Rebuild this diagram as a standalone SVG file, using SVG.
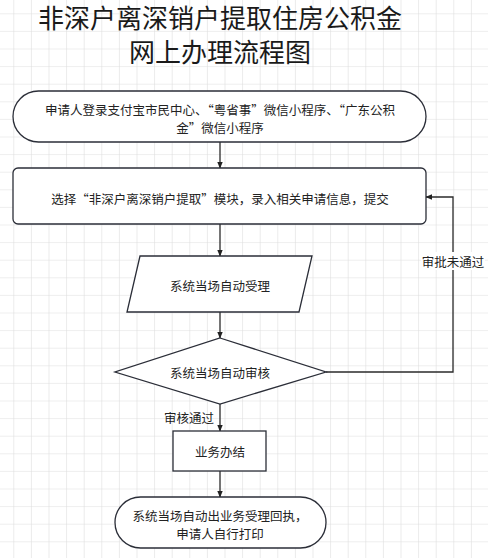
<svg xmlns="http://www.w3.org/2000/svg" width="488" height="558" viewBox="0 0 488 558">
<defs>
<pattern id="grid" patternUnits="userSpaceOnUse" x="13.3" y="13.3" width="17.6" height="17.6">
<path d="M0 0 H17.6 M0 0 V17.6" fill="none" stroke="#dedede" stroke-width="1.2"/>
</pattern>
<marker id="arr" viewBox="0 0 10 10" refX="9" refY="5" markerWidth="7" markerHeight="7" orient="auto" markerUnits="userSpaceOnUse">
<path d="M0 1 L10 5 L0 9 Z" fill="#222"/>
</marker>
<style>
.shape{fill:#fff;stroke:#2b2e38;stroke-width:1.3}
.t{font-family:"Noto Sans CJK SC","Noto Sans",sans-serif;font-size:12.5px;fill:#222;text-anchor:middle;dominant-baseline:central}
.title{font-family:"Noto Sans CJK SC","Noto Sans",sans-serif;font-size:26px;fill:#1a1a1a;text-anchor:middle;dominant-baseline:central}
.edge{fill:none;stroke:#2b2b2b;stroke-width:1.3}
</style>
</defs>
<rect width="488" height="558" fill="#fff"/>
<rect width="488" height="558" fill="url(#grid)"/>
<g id="title">
<text class="title" x="220" y="16">非深户离深销户提取住房公积金</text>
<text class="title" x="220" y="50">网上办理流程图</text>
</g>
<g id="connectors">
<line class="edge" x1="220" y1="142" x2="220" y2="168" marker-end="url(#arr)"/>
<line class="edge" x1="220" y1="224" x2="220" y2="256" marker-end="url(#arr)"/>
<line class="edge" x1="220" y1="312" x2="220" y2="338" marker-end="url(#arr)"/>
<line class="edge" x1="220" y1="404" x2="220" y2="431" marker-end="url(#arr)"/>
<line class="edge" x1="220" y1="471" x2="220" y2="497" marker-end="url(#arr)"/>
<polyline class="edge" points="326,372 453,372 453,197 426,197" marker-end="url(#arr)"/>
<rect x="421" y="252" width="64" height="18" fill="#fff"/>
<text class="t" x="453" y="261">审批未通过</text>
<text class="t" x="189" y="417">审核通过</text>
</g>
<g id="start">
<rect class="shape" x="13" y="91" width="413" height="51" rx="25.5" ry="25.5"/>
<text class="t" x="220" y="109">申请人登录支付宝市民中心、“粤省事”微信小程序、“广东公积</text>
<text class="t" x="220" y="127">金”微信小程序</text>
</g>
<g id="select">
<rect class="shape" x="13" y="168" width="413" height="56" rx="5" ry="5"/>
<text class="t" x="220" y="198">选择“非深户离深销户提取”模块，录入相关申请信息，提交</text>
</g>
<g id="accept">
<polygon class="shape" points="140,256 312,256 299,312 127,312"/>
<text class="t" x="220" y="285">系统当场自动受理</text>
</g>
<g id="review">
<polygon class="shape" points="220,338 326,372 220,404 115,372"/>
<text class="t" x="220" y="372">系统当场自动审核</text>
</g>
<g id="done">
<rect class="shape" x="173" y="431" width="93" height="40"/>
<text class="t" x="220" y="451">业务办结</text>
</g>
<g id="end">
<rect class="shape" x="115" y="497" width="211" height="51" rx="25.5" ry="25.5"/>
<text class="t" x="220" y="515">系统当场自动出业务受理回执，</text>
<text class="t" x="220" y="533">申请人自行打印</text>
</g>
</svg>
